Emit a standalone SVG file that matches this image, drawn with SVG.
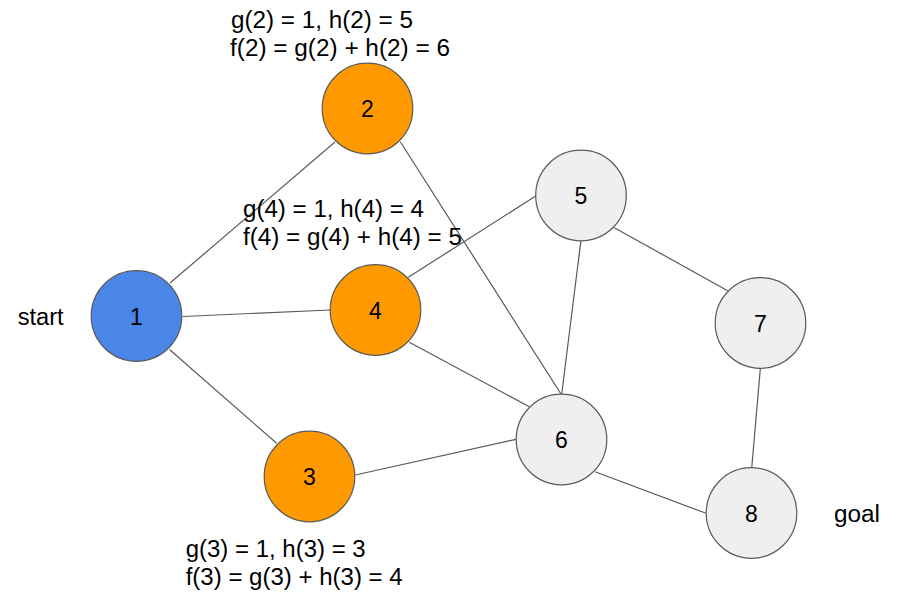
<svg xmlns="http://www.w3.org/2000/svg" width="923" height="613" viewBox="0 0 923 613">
<style>
.edge{stroke:#595959;stroke-width:1.2;fill:none}
.n{stroke:#595959;stroke-width:1.2}
.blue{fill:#4a86e8}
.orange{fill:#ff9900}
.gray{fill:#efefef}
text{font-family:"Liberation Sans",Arial,sans-serif;font-size:23px;fill:#000}
.lbl{text-anchor:middle}
</style>
<rect width="923" height="613" fill="#ffffff"/>
<g id="connectors">
<line class="edge" x1="170" y1="283" x2="335" y2="142"/>
<line class="edge" x1="182.7" y1="316.5" x2="330" y2="310"/>
<line class="edge" x1="169.5" y1="349.5" x2="276.7" y2="443.3"/>
<line class="edge" x1="400.3" y1="141.7" x2="561" y2="394"/>
<line class="edge" x1="408.3" y1="277.3" x2="535.7" y2="196"/>
<line class="edge" x1="409.3" y1="342.3" x2="529.3" y2="406.7"/>
<line class="edge" x1="355.3" y1="475" x2="516" y2="439.3"/>
<line class="edge" x1="581" y1="240" x2="561.7" y2="394"/>
<line class="edge" x1="614.3" y1="227.7" x2="727.7" y2="290.7"/>
<line class="edge" x1="760.3" y1="368.7" x2="751.7" y2="468.3"/>
<line class="edge" x1="595" y1="471.7" x2="706" y2="513.3"/>
</g>
<g id="node1">
<circle class="n blue" cx="136.5" cy="316" r="45.3"/>
<text class="lbl" x="136.5" y="324.5">1</text>
<text x="17.7" y="325" textLength="46" lengthAdjust="spacingAndGlyphs">start</text>
</g>
<g id="node2">
<circle class="n orange" cx="367.5" cy="108.5" r="45.3"/>
<text class="lbl" x="367.5" y="117">2</text>
<text x="231" y="27.5" textLength="182" lengthAdjust="spacingAndGlyphs">g(2) = 1, h(2) = 5</text>
<text x="230" y="55.5" textLength="220" lengthAdjust="spacingAndGlyphs">f(2) = g(2) + h(2) = 6</text>
</g>
<g id="node3">
<circle class="n orange" cx="309.5" cy="476.5" r="45.3"/>
<text class="lbl" x="309.5" y="485">3</text>
<text x="185.7" y="556.5" textLength="180" lengthAdjust="spacingAndGlyphs">g(3) = 1, h(3) = 3</text>
<text x="185.7" y="584.5" textLength="217" lengthAdjust="spacingAndGlyphs">f(3) = g(3) + h(3) = 4</text>
</g>
<g id="node4">
<circle class="n orange" cx="375.5" cy="310" r="45.3"/>
<text class="lbl" x="375.5" y="318.5">4</text>
<text x="243" y="217" textLength="181" lengthAdjust="spacingAndGlyphs">g(4) = 1, h(4) = 4</text>
<text x="243" y="245" textLength="219" lengthAdjust="spacingAndGlyphs">f(4) = g(4) + h(4) = 5</text>
</g>
<g id="node5">
<circle class="n gray" cx="581" cy="195.5" r="45.3"/>
<text class="lbl" x="581" y="204">5</text>
</g>
<g id="node6">
<circle class="n gray" cx="561.5" cy="439.5" r="45.3"/>
<text class="lbl" x="561.5" y="448">6</text>
</g>
<g id="node7">
<circle class="n gray" cx="760.5" cy="323" r="45.3"/>
<text class="lbl" x="760.5" y="331.5">7</text>
</g>
<g id="node8">
<circle class="n gray" cx="751.5" cy="513" r="45.3"/>
<text class="lbl" x="751.5" y="521.5">8</text>
<text x="834" y="522" textLength="46" lengthAdjust="spacingAndGlyphs">goal</text>
</g>
</svg>
